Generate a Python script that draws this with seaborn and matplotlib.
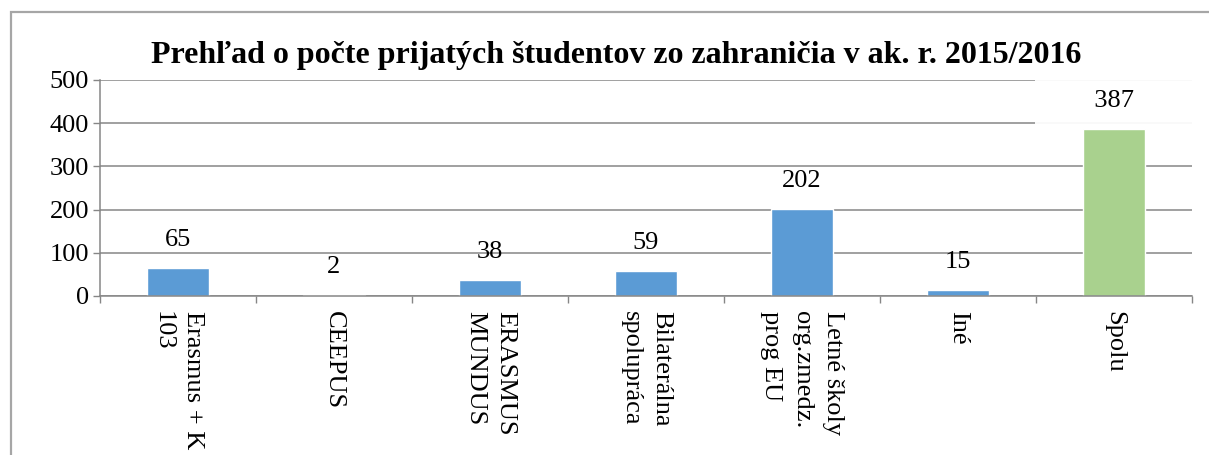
# prijati studenti zo zahranicia - stlpcovy graf
import seaborn as sns
import matplotlib.pyplot as plt
from matplotlib.patches import Rectangle

# data
categories = ['Erasmus + K\n103', 'CEEPUS', 'ERASMUS\nMUNDUS', 'Bilaterálna\nspolupráca',
              'Letné školy\norg.zmedz.\nprog EU', 'Iné', 'Spolu']
values = [65, 2, 38, 59, 202, 15, 387]
bar_colors = ['#5B9BD5'] * 6 + ['#A9D18E']
yticks = [0, 100, 200, 300, 400, 500]
title = 'Prehľad o počte prijatých študentov zo zahraničia v ak. r. 2015/2016'

sns.set_theme(style='white')
plt.rcParams['font.family'] = ['Liberation Serif', 'DejaVu Serif']
plt.rcParams['text.color'] = 'black'
plt.rcParams['xtick.color'] = 'black'
plt.rcParams['ytick.color'] = 'black'

fig = plt.figure(figsize=(12.09, 4.55), dpi=100)
ax = fig.add_axes([100 / 1209, 1 - 296 / 455, 1092 / 1209, 216 / 455])

sns.barplot(x=categories, y=values, hue=categories, palette=bar_colors,
            legend=False, width=0.4, saturation=1, ax=ax, zorder=2)

ax.set_xlim(-0.5, 6.5)
ax.set_ylim(0, 500)
ax.set_yticks(yticks)
ax.yaxis.grid(True, color='#868686', lw=1.1, zorder=0)
ax.set_axisbelow(True)
for s in ['top', 'right']:
    ax.spines[s].set_visible(False)
for s in ['left', 'bottom']:
    ax.spines[s].set_color('#868686')
    ax.spines[s].set_linewidth(1.1)

ax.tick_params(axis='y', left=True, length=5, width=1, color='#868686',
               labelsize=19, pad=3)
# ticks between categories
ax.set_xticks([i + 0.5 for i in range(-1, 7)], minor=True)
ax.tick_params(axis='x', which='minor', bottom=True, length=5, width=1, color='#868686')
ax.tick_params(axis='x', which='major', bottom=False, pad=5)
ax.set_xticks(range(len(categories)))
ax.set_xticklabels(categories, rotation=270, rotation_mode='anchor',
                   ha='left', va='center', fontsize=19, multialignment='left',
                   linespacing=1.5)
ax.set_xlabel('')
ax.set_ylabel('')

for i, v in enumerate(values):
    if i == len(values) - 1:
        # biely ramik za popisom (zakryva mriezku ako v povodnom grafe)
        ax.annotate('       ' + f'{v}' + '       ', (i, v), xytext=(0, 12),
                    textcoords='offset points', ha='center', va='bottom', fontsize=19,
                    bbox=dict(fc='white', ec='none', alpha=0.95, boxstyle='square,pad=0.5'))
    else:
        ax.annotate(f'{v}', (i, v), xytext=(0, 12), textcoords='offset points',
                    ha='center', va='bottom', fontsize=19)

fig.text(616 / 1209, 1 - 63 / 455, title, ha='center', va='baseline',
         fontsize=23, fontweight='bold')

# ramcek okolo grafu
fig.add_artist(Rectangle((11 / 1209, -0.2), 1.2, (455 - 12) / 455 + 0.2,
                         transform=fig.transFigure, fill=False,
                         ec='#A6A6A6', lw=1.6))

plt.savefig('out.png', dpi=100)
plt.close()
